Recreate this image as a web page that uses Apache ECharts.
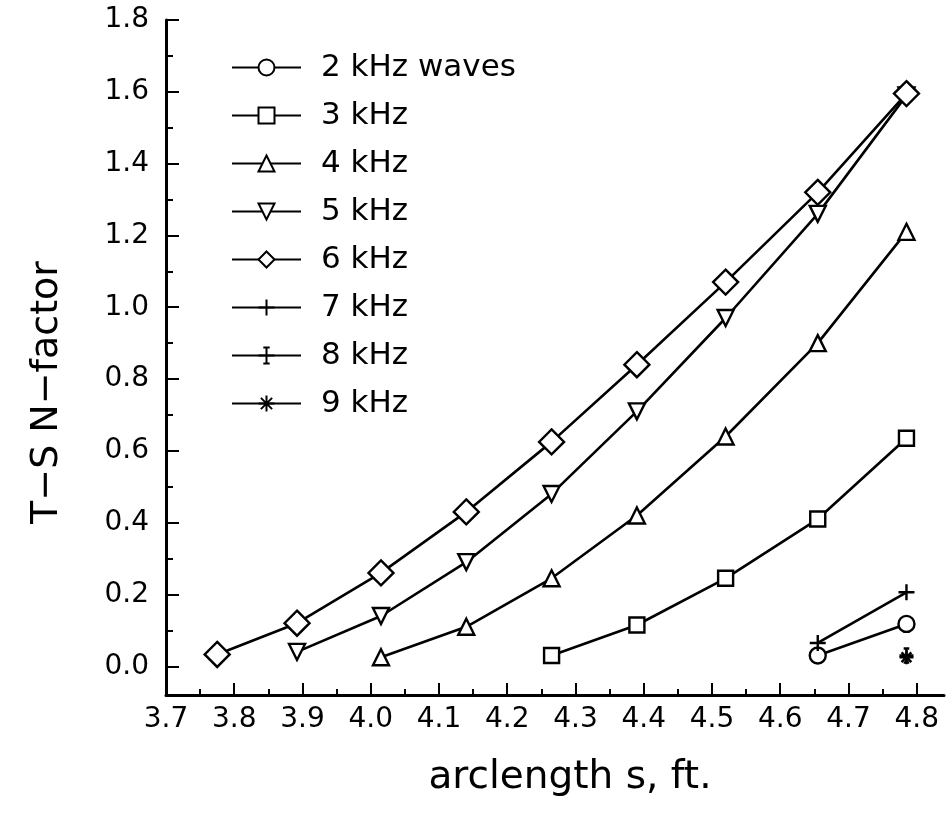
<!DOCTYPE html>
<html>
<head>
<meta charset="utf-8">
<script src="https://cdn.jsdelivr.net/npm/echarts@6/dist/echarts.min.js"></script>
<style>html,body{margin:0;padding:0;background:#fff;}#c{width:949px;height:814px;}</style>
</head>
<body>
<div id="c"></div>
<script>
// arclength positions (ft)
const arclength = [3.775, 3.892, 4.015, 4.14, 4.265, 4.39, 4.52, 4.655, 4.785];
// T-SN-factor values per frequency (null = no point)
const tsn2kHz = [null, null, null, null, null, null, null, 0.03, 0.118];
const tsn3kHz = [null, null, null, null, 0.03, 0.115, 0.245, 0.41, 0.635];
const tsn4kHz = [null, null, 0.025, 0.11, 0.245, 0.42, 0.64, 0.90, 1.21];
const tsn5kHz = [null, 0.04, 0.14, 0.29, 0.48, 0.71, 0.97, 1.26, 1.59];
const tsn6kHz = [0.033, 0.12, 0.26, 0.43, 0.625, 0.84, 1.07, 1.32, 1.595];
const tsn7kHz = [null, null, null, null, null, null, null, 0.065, 0.206];
const tsn8kHz = [null, null, null, null, null, null, null, null, 0.03];
const tsn9kHz = [null, null, null, null, null, null, null, null, 0.025];

const seriesNames = ['2 kHz waves', '3 kHz', '4 kHz', '5 kHz', '6 kHz', '7 kHz', '8 kHz', '9 kHz'];
const seriesValues = [tsn2kHz, tsn3kHz, tsn4kHz, tsn5kHz, tsn6kHz, tsn7kHz, tsn8kHz, tsn9kHz];

const xMajorTicks = [3.7, 3.8, 3.9, 4.0, 4.1, 4.2, 4.3, 4.4, 4.5, 4.6, 4.7, 4.8];
const xMinorTicks = [3.75, 3.85, 3.95, 4.05, 4.15, 4.25, 4.35, 4.45, 4.55, 4.65, 4.75];
const yMajorTicks = [0.0, 0.2, 0.4, 0.6, 0.8, 1.0, 1.2, 1.4, 1.6, 1.8];
const yMinorTicks = [0.1, 0.3, 0.5, 0.7, 0.9, 1.1, 1.3, 1.5, 1.7];

const symbols = [
  {symbol: 'circle', size: 16, rotate: 0},
  {symbol: 'rect', size: 15, rotate: 0},
  {symbol: 'triangle', size: 16, rotate: 0},
  {symbol: 'triangle', size: 16, rotate: 180},
  {symbol: 'diamond', size: 25, rotate: 0},
  {symbol: 'path://M5,0L5,10M0,5L10,5', size: 16, rotate: 0},
  {symbol: 'path://M3,0L7,0M5,0L5,10M3,10L7,10M0,5L10,5', size: 14, rotate: 0},
  {symbol: 'path://M5,0L5,10M0,5L10,5M1.5,1.5L8.5,8.5M8.5,1.5L1.5,8.5', size: 14, rotate: 0}
];

const FONT = 'DejaVu Sans';

const series = seriesNames.map((name, i) => ({
  name: name,
  type: 'line',
  xAxisIndex: 0,
  yAxisIndex: 0,
  data: arclength.map((x, j) => seriesValues[i][j] == null ? null : [x, seriesValues[i][j]]).filter(d => d !== null),
  symbol: symbols[i].symbol,
  symbolSize: symbols[i].size,
  symbolRotate: symbols[i].rotate,
  showAllSymbol: true,
  color: '#000',
  lineStyle: {color: '#000', width: 2.6},
  itemStyle: {color: '#fff', borderColor: '#000', borderWidth: 2.4},
  emphasis: {disabled: true},
  animation: false,
  z: 3
}));

const chart = echarts.init(document.getElementById('c'), null, {renderer: 'canvas'});
chart.setOption({
  backgroundColor: '#fff',
  animation: false,
  grid: {left: 166, right: 5, top: 20, bottom: 119, containLabel: false},
  legend: {
    orient: 'vertical',
    left: 226,
    top: 47,
    itemWidth: 69,
    itemHeight: 20,
    itemGap: 17,
    selectedMode: false,
    textStyle: {fontFamily: FONT, fontSize: 31, color: '#000', padding: [0, 0, 0, 15]},
    data: seriesNames
  },
  xAxis: [{
    type: 'value', min: 3.7, max: 4.84, position: 'bottom',
    name: 'arclength s, ft.', nameLocation: 'middle', nameGap: 63,
    nameTextStyle: {fontFamily: FONT, fontSize: 39, color: '#000', padding: [0, 0, 0, 30]},
    axisLine: {onZero: false, lineStyle: {color: '#000', width: 3}},
    axisTick: {inside: true, length: 12, lineStyle: {color: '#000', width: 2}, customValues: xMajorTicks},
    axisLabel: {customValues: xMajorTicks, formatter: v => v.toFixed(1), fontFamily: FONT, fontSize: 28, color: '#000', margin: 11},
    splitLine: {show: false}
  }, {
    type: 'value', min: 3.7, max: 4.84, position: 'bottom', gridIndex: 0,
    axisLine: {show: false, onZero: false},
    axisTick: {inside: true, length: 6, lineStyle: {color: '#000', width: 2}, customValues: xMinorTicks},
    axisLabel: {show: false},
    splitLine: {show: false}
  }],
  yAxis: [{
    type: 'value', min: -0.08, max: 1.8, position: 'left',
    name: 'T−S N−factor', nameLocation: 'middle', nameGap: 100,
    nameTextStyle: {fontFamily: FONT, fontSize: 38, color: '#000', padding: [0, 70, 0, 0]},
    axisLine: {onZero: false, lineStyle: {color: '#000', width: 3}},
    axisTick: {inside: true, length: 13, lineStyle: {color: '#000', width: 2}, customValues: yMajorTicks},
    axisLabel: {customValues: yMajorTicks, formatter: v => v.toFixed(1), fontFamily: FONT, fontSize: 28, color: '#000', margin: 17},
    splitLine: {show: false}
  }, {
    type: 'value', min: -0.08, max: 1.8, position: 'left', gridIndex: 0,
    axisLine: {show: false, onZero: false},
    axisTick: {inside: true, length: 7, lineStyle: {color: '#000', width: 2}, customValues: yMinorTicks},
    axisLabel: {show: false},
    splitLine: {show: false}
  }],
  series: series
});
</script>
</body>
</html>
